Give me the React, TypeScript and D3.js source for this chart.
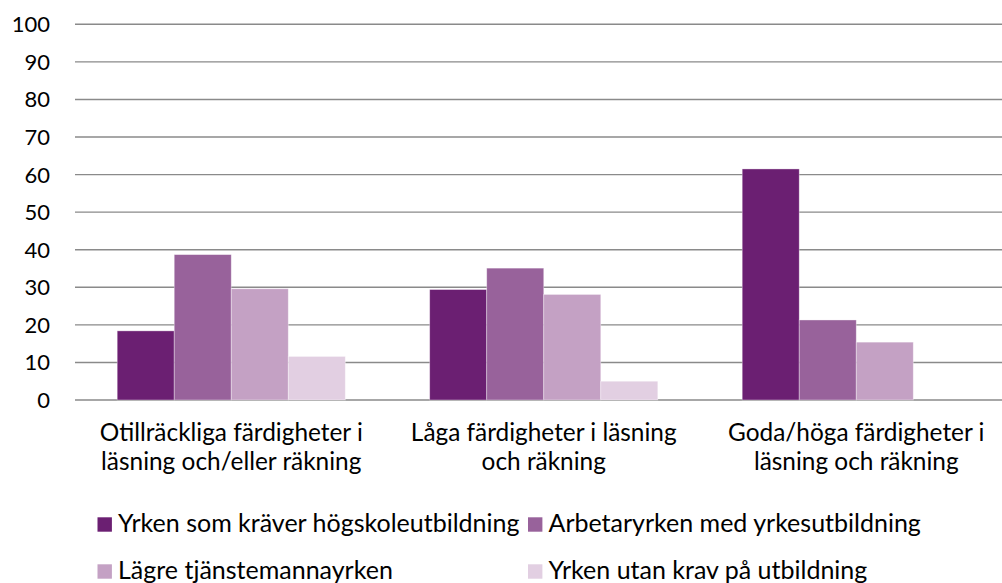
import React from 'react';
import * as d3 from 'd3';

// categories on the x axis, each split in two lines
const categories = [
  ['Otillräckliga färdigheter i', 'läsning och/eller räkning'],
  ['Låga färdigheter i läsning', 'och räkning'],
  ['Goda/höga färdigheter i', 'läsning och räkning'],
];

const seriesNames = [
  'Yrken som kräver högskoleutbildning',
  'Arbetaryrken med yrkesutbildning',
  'Lägre tjänstemannayrken',
  'Yrken utan krav på utbildning',
];

// one array per series, one value per category
const hogskola = [18.4, 29.4, 61.5];
const arbetar = [38.7, 35.1, 21.3];
const tjansteman = [29.6, 28.1, 15.4];
const utanKrav = [11.6, 5.0, null];

const seriesValues = [hogskola, arbetar, tjansteman, utanKrav];
const colors = ['#6b1f72', '#98629b', '#c4a1c4', '#e2cfe2'];
const yTicks = [0, 10, 20, 30, 40, 50, 60, 70, 80, 90, 100];

const W = 1002, H = 583;
const font = 'Lato, "Open Sans", sans-serif';

export default function App() {
  const groupKeys = categories.map((c, i) => String(i));

  const x0 = d3.scaleBand().domain(groupKeys).range([75, 1012.5]).padding(0);
  const x1 = d3.scaleBand()
    .domain(seriesNames)
    .range([0, x0.bandwidth()])
    .paddingInner(0)
    .paddingOuter(0.74);
  const y = d3.scaleLinear().domain([0, 100]).range([400, 24.3]);

  // legend is two rows, two columns
  const legendCols = [97.5, 528];
  const legendRows = [524.5, 571.5];

  return (
    <svg width={W} height={H} style={{ position: 'absolute', left: 0, top: 0, background: '#fff' }}
      fontFamily={font}>
      <g>
        {yTicks.map(t => (
          <g key={t}>
            <line x1={75} x2={W} y1={y(t)} y2={y(t)} stroke="#8a8a8a" strokeWidth={1.4} />
            <text x={50} y={y(t)} dy="0.36em" textAnchor="end" fontSize={22} fill="#000">{t}</text>
          </g>
        ))}
      </g>

      <g>
        {seriesValues.map((vals, si) => (
          <g key={si} fill={colors[si]}>
            {vals.map((v, ci) => v == null ? null : (
              <rect key={ci}
                x={x0(groupKeys[ci])! + x1(seriesNames[si])!}
                y={y(v)}
                width={x1.bandwidth()}
                height={y(0) - y(v)}
                stroke="#fff" strokeOpacity={0.45} strokeWidth={0.8} />
            ))}
          </g>
        ))}
      </g>

      <g>
        {categories.map((lines, ci) => (
          <text key={ci} x={x0(groupKeys[ci])! + x0.bandwidth() / 2} y={441}
            textAnchor="middle" fontSize={24.4} fill="#000">
            {lines.map((l, li) => (
              <tspan key={li} x={x0(groupKeys[ci])! + x0.bandwidth() / 2} dy={li === 0 ? 0 : 28.5}>{l}</tspan>
            ))}
          </text>
        ))}
      </g>

      <g>
        {seriesNames.map((name, si) => {
          const lx = legendCols[si % 2];
          const ly = legendRows[Math.floor(si / 2)];
          return (
            <g key={name}>
              <rect x={lx} y={ly - 7.2} width={14.4} height={14.4} fill={colors[si]} />
              <text x={lx + 20.5} y={ly + 7.6} fontSize={25} fill="#000">{name}</text>
            </g>
          );
        })}
      </g>
    </svg>
  );
}
